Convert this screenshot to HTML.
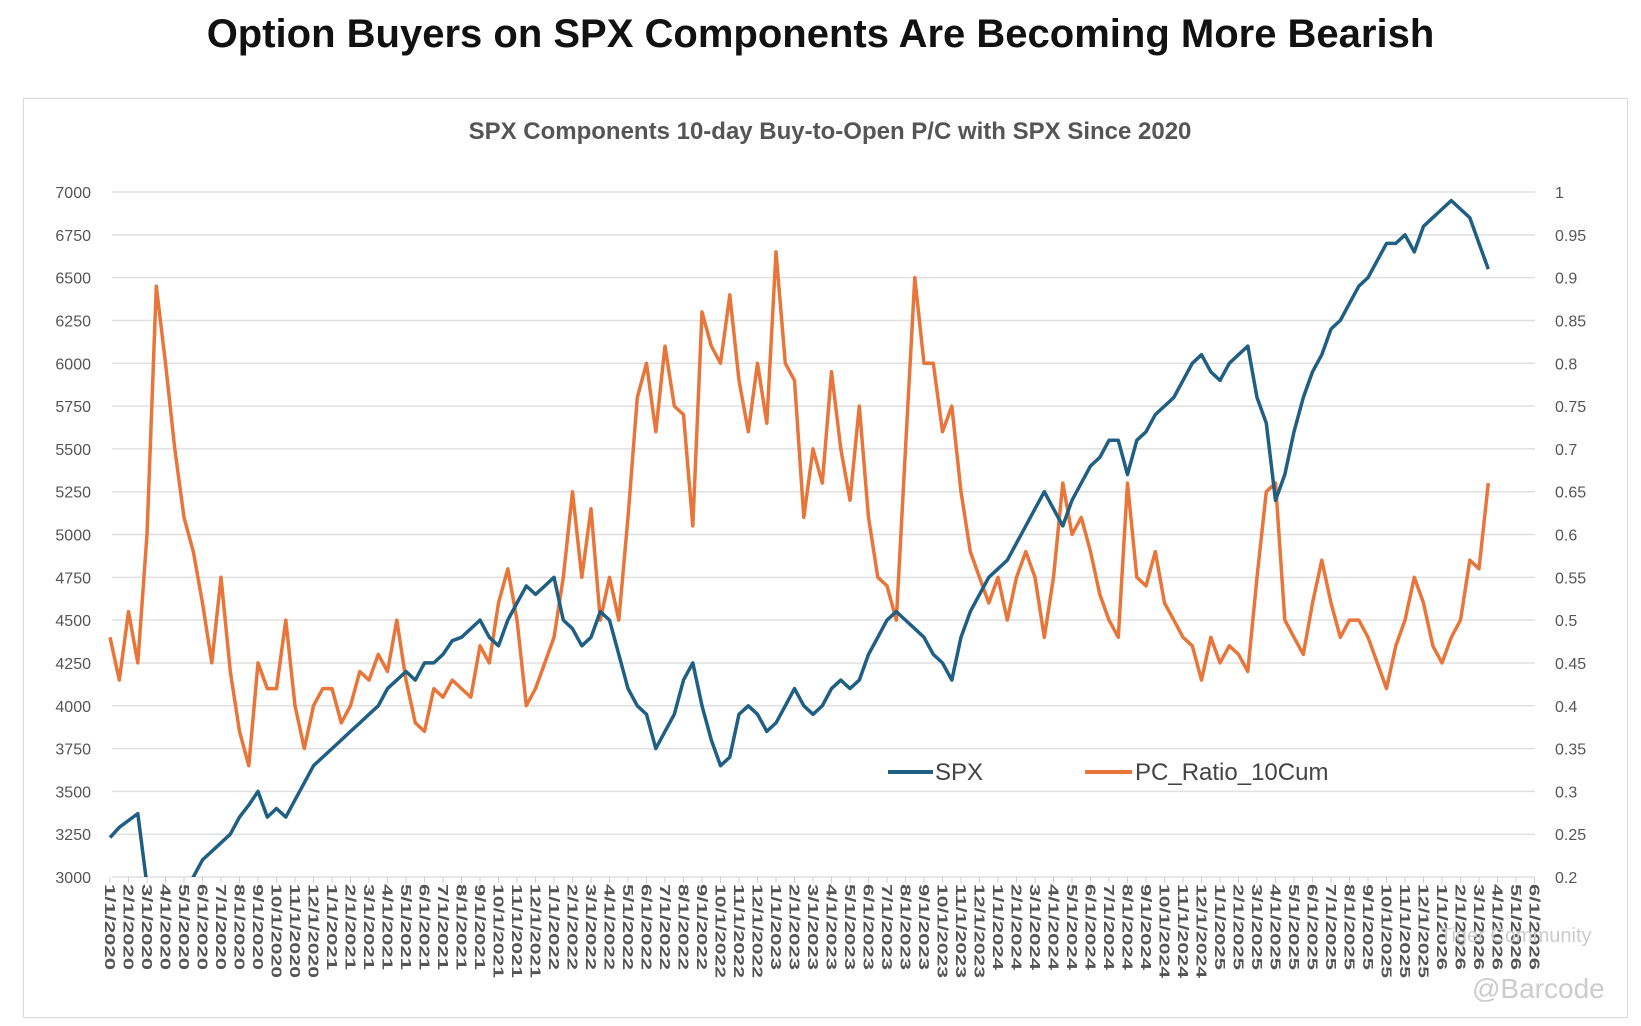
<!DOCTYPE html>
<html><head><meta charset="utf-8"><style>
body{margin:0;background:#fff;width:1641px;height:1026px;overflow:hidden;font-family:"Liberation Sans",sans-serif}
#title{position:absolute;left:0;top:12px;width:1641px;text-align:center;font-size:40px;font-weight:bold;color:#111}
#frame{position:absolute;left:23px;top:98px;width:1603px;height:918px;border:1.5px solid #d9d9d9}
</style></head><body>
<div id="title">Option Buyers on SPX Components Are Becoming More Bearish</div>
<div id="frame"></div>
<svg id="chart" width="1641" height="1026" style="position:absolute;left:0;top:0">
<defs><clipPath id="clip"><rect x="100" y="185" width="1450" height="692"/></clipPath></defs>
<text x="830" y="139" text-anchor="middle" font-size="24" font-weight="bold" fill="#555">SPX Components 10-day Buy-to-Open P/C with SPX Since 2020</text>
<g id="grid"></g><g id="axes"></g><g id="series" clip-path="url(#clip)"></g>
<g>
<line x1="888" y1="772" x2="933" y2="772" stroke="#1f5f84" stroke-width="4"/>
<text x="935" y="780" font-size="24" fill="#444">SPX</text>
<line x1="1085" y1="772" x2="1132" y2="772" stroke="#e8763a" stroke-width="4"/>
<text x="1135" y="780" font-size="24" fill="#444">PC_Ratio_10Cum</text>
</g>
<text x="1440" y="942" font-size="20" fill="#ccc">Tiger Community</text>
<text x="1472" y="998" font-size="28" fill="#ccc">@Barcode</text>
</svg>
<script>
const leftTicks=[3000,3250,3500,3750,4000,4250,4500,4750,5000,5250,5500,5750,6000,6250,6500,6750,7000];
const rightTicks=["0.2","0.25","0.3","0.35","0.4","0.45","0.5","0.55","0.6","0.65","0.7","0.75","0.8","0.85","0.9","0.95","1"];
const spx=[3230,3290,3330,3370,2950,2450,2700,2850,2900,3000,3100,3150,3200,3250,3350,3420,3500,3350,3400,3350,3450,3550,3650,3700,
3750,3800,3850,3900,3950,4000,4100,4150,4200,4150,4250,4250,4300,4380,4400,4450,4500,4400,4350,4500,4600,4700,4650,4700,
4750,4500,4450,4350,4400,4550,4500,4300,4100,4000,3950,3750,3850,3950,4150,4250,4000,3800,3650,3700,3950,4000,3950,3850,
3900,4000,4100,4000,3950,4000,4100,4150,4100,4150,4300,4400,4500,4550,4500,4450,4400,4300,4250,4150,4400,4550,4650,4750,
4800,4850,4950,5050,5150,5250,5150,5050,5200,5300,5400,5450,5550,5550,5350,5550,5600,5700,5750,5800,5900,6000,6050,5950,
5900,6000,6050,6100,5800,5650,5200,5350,5600,5800,5950,6050,6200,6250,6350,6450,6500,6600,6700,6700,6750,6650,6800,6850,
6900,6950,6900,6850,6700,6550];
const pc=[.48,.43,.51,.45,.60,.89,.80,.70,.62,.58,.52,.45,.55,.44,.37,.33,.45,.42,.42,.50,.40,.35,.40,.42,
.42,.38,.40,.44,.43,.46,.44,.50,.43,.38,.37,.42,.41,.43,.42,.41,.47,.45,.52,.56,.50,.40,.42,.45,
.48,.55,.65,.55,.63,.50,.55,.50,.62,.76,.80,.72,.82,.75,.74,.61,.86,.82,.80,.88,.78,.72,.80,.73,
.93,.80,.78,.62,.70,.66,.79,.70,.64,.75,.62,.55,.54,.50,.70,.90,.80,.80,.72,.75,.65,.58,.55,.52,
.55,.50,.55,.58,.55,.48,.55,.66,.60,.62,.58,.53,.50,.48,.66,.55,.54,.58,.52,.50,.48,.47,.43,.48,
.45,.47,.46,.44,.55,.65,.66,.50,.48,.46,.52,.57,.52,.48,.50,.50,.48,.45,.42,.47,.50,.55,.52,.47,
.45,.48,.50,.57,.56,.66];
const xLabels=[];for(let y=2020;y<=2026;y++)for(let m=1;m<=12;m++){if(y==2026&&m>6)break;xLabels.push(m+"/1/"+y);}
const NS="http://www.w3.org/2000/svg";
const X=m=>110+m*18.5, YL=v=>192+(7000-v)/4000*685, YR=v=>192+(1-v)/0.8*685;
function mk(t,a,p){const e=document.createElementNS(NS,t);for(const k in a)e.setAttribute(k,a[k]);p.appendChild(e);return e;}
const grid=document.getElementById('grid'),axes=document.getElementById('axes'),ser=document.getElementById('series');
leftTicks.forEach((v,i)=>{const y=YL(v);
 const l=mk('line',{x1:112,x2:1535,y1:y,y2:y,stroke:'#e0e0e0','stroke-width':1.5},grid);
 
 
 const t=mk('text',{x:91,y:y+6,'text-anchor':'end','font-size':16,fill:'#555'},axes);t.textContent=v;
 
 
 const r=mk('text',{x:1555,y:y+6,'font-size':16,fill:'#555'},axes);r.textContent=rightTicks[i];
 
 });
xLabels.forEach((s,i)=>{const x=X(i);
 const tk=mk('line',{x1:x,x2:x,y1:877,y2:883,stroke:'#d0d0d0'},axes);
 
 
 const t=mk('text',{x:0,y:0,transform:`translate(${x-5},884) rotate(90)`,'font-size':15,'font-weight':'bold',fill:'#555',textLength:s.length>8?94:86,lengthAdjust:'spacingAndGlyphs'},axes);
 t.textContent=s;
 
 });
function line(arr,yf,col,name){const d=arr.map((v,i)=>(i?'L':'M')+X(i/2).toFixed(1)+' '+yf(v).toFixed(1)).join(' ');
 const p=mk('path',{d:d,fill:'none',stroke:col,'stroke-width':3.5,'stroke-linejoin':'round'},ser);
 
 }
line(pc,YR,'#e8763a','pc-ratio-line');
line(spx,YL,'#1f5f84','spx-line');
</script>
</body></html>
